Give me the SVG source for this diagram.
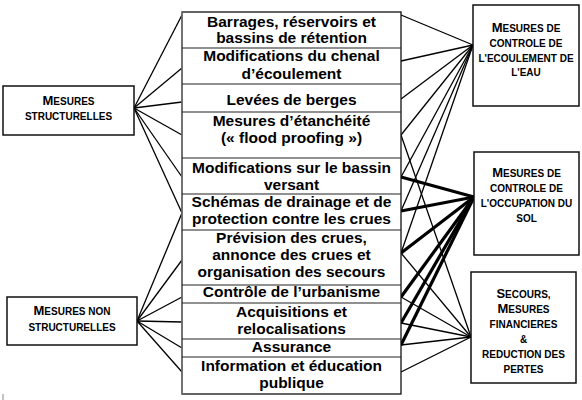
<svg xmlns="http://www.w3.org/2000/svg" width="582" height="400" viewBox="0 0 582 400">
<style>
.box{fill:#fff;stroke:#111;stroke-width:1.5}
.sep{stroke:#222;stroke-width:1.2}
.t{font-family:"Liberation Sans",Arial,sans-serif;font-weight:bold;font-size:15.5px;fill:#000;text-anchor:middle}
.sc{font-family:"Liberation Sans",Arial,sans-serif;font-weight:bold;font-size:10px;fill:#000;text-anchor:middle}
.big{font-size:13px}
.thin{stroke:#000;stroke-width:1.3;fill:none}
.thick{stroke:#000;stroke-width:3.2;fill:none}
</style>
<rect width="582" height="400" fill="#fff"/>
<g id="connectors">
<g class="thin">
<line x1="134" y1="108" x2="182" y2="15"/>
<line x1="134" y1="108" x2="182" y2="68"/>
<line x1="134" y1="108" x2="182" y2="102"/>
<line x1="134" y1="108" x2="182" y2="135"/>
<line x1="134" y1="108" x2="182" y2="177"/>
<line x1="134" y1="108" x2="182" y2="213"/>
<line x1="137" y1="321" x2="182" y2="213"/>
<line x1="137" y1="321" x2="182" y2="260"/>
<line x1="137" y1="321" x2="182" y2="297"/>
<line x1="137" y1="321" x2="182" y2="322"/>
<line x1="137" y1="321" x2="182" y2="348"/>
<line x1="137" y1="321" x2="182" y2="372"/>
<line x1="473" y1="45" x2="401" y2="15"/>
<line x1="473" y1="45" x2="401" y2="61"/>
<line x1="473" y1="45" x2="401" y2="99"/>
<line x1="473" y1="45" x2="401" y2="135"/>
<line x1="473" y1="45" x2="401" y2="177"/>
<line x1="473" y1="45" x2="401" y2="211"/>
<line x1="473" y1="45" x2="401" y2="253"/>
<line x1="471" y1="337" x2="401" y2="135"/>
<line x1="471" y1="337" x2="401" y2="253"/>
<line x1="471" y1="337" x2="401" y2="297"/>
<line x1="471" y1="337" x2="401" y2="323"/>
<line x1="471" y1="337" x2="401" y2="345"/>
<line x1="471" y1="337" x2="401" y2="372"/>
</g>
<g class="thick">
<line x1="474" y1="197" x2="401" y2="177"/>
<line x1="474" y1="197" x2="401" y2="211"/>
<line x1="474" y1="197" x2="401" y2="253"/>
<line x1="474" y1="197" x2="401" y2="297"/>
<line x1="474" y1="197" x2="401" y2="323"/>
<line x1="474" y1="197" x2="401" y2="345"/>
</g>
</g>
<g id="mesures-list">
<rect x="182" y="12" width="219" height="382" fill="#fff" stroke="#111" stroke-width="1.3"/>
<line x1="182" y1="12" x2="182" y2="394" stroke="#777" stroke-width="1.5"/>
<g class="sep">
<line x1="182" y1="48" x2="401" y2="48"/>
<line x1="182" y1="84" x2="401" y2="84"/>
<line x1="182" y1="112" x2="401" y2="112"/>
<line x1="182" y1="158" x2="401" y2="158"/>
<line x1="182" y1="194" x2="401" y2="194"/>
<line x1="182" y1="230" x2="401" y2="230"/>
<line x1="182" y1="285" x2="401" y2="285"/>
<line x1="182" y1="303" x2="401" y2="303"/>
<line x1="182" y1="339" x2="401" y2="339"/>
<line x1="182" y1="357" x2="401" y2="357"/>
</g>
</g>
<g id="n-barrages"><text class="t" x="291.5" y="27">Barrages, réservoirs et</text><text class="t" x="291.5" y="43">bassins de rétention</text></g>
<g id="n-chenal"><text class="t" x="291.5" y="61">Modifications du chenal</text><text class="t" x="291.5" y="79">d’écoulement</text></g>
<g id="n-levees"><text class="t" x="291.5" y="105">Levées de berges</text></g>
<g id="n-etancheite"><text class="t" x="291.5" y="126">Mesures d’étanchéité</text><text class="t" x="291.5" y="143">(« flood proofing »)</text></g>
<g id="n-bassin"><text class="t" x="291.5" y="173">Modifications sur le bassin</text><text class="t" x="291.5" y="190">versant</text></g>
<g id="n-drainage"><text class="t" x="291.5" y="207">Schémas de drainage et de</text><text class="t" x="291.5" y="224">protection contre les crues</text></g>
<g id="n-prevision"><text class="t" x="291.5" y="243">Prévision des crues,</text><text class="t" x="291.5" y="260">annonce des crues et</text><text class="t" x="291.5" y="277">organisation des secours</text></g>
<g id="n-urbanisme"><text class="t" x="291.5" y="297">Contrôle de l’urbanisme</text></g>
<g id="n-acquisitions"><text class="t" x="291.5" y="317">Acquisitions et</text><text class="t" x="291.5" y="334">relocalisations</text></g>
<g id="n-assurance"><text class="t" x="291.5" y="352">Assurance</text></g>
<g id="n-information"><text class="t" x="291.5" y="371">Information et éducation</text><text class="t" x="291.5" y="388">publique</text></g>
<g id="n-structurelles">
<rect class="box" x="3" y="86" width="131" height="49"/>
<text class="sc" x="68.5" y="105"><tspan class="big">M</tspan>ESURES</text>
<text class="sc" x="68.5" y="120">STRUCTURELLES</text>
</g>
<g id="n-non-structurelles">
<rect class="box" x="7" y="297" width="130" height="48"/>
<text class="sc" x="72" y="315"><tspan class="big">M</tspan>ESURES NON</text>
<text class="sc" x="72" y="331">STRUCTURELLES</text>
</g>
<g id="n-ecoulement">
<rect class="box" x="473" y="5" width="106" height="101"/>
<text class="sc" x="526" y="32"><tspan class="big">M</tspan>ESURES DE</text>
<text class="sc" x="526" y="47">CONTROLE DE</text>
<text class="sc" x="526" y="62">L'ECOULEMENT DE</text>
<text class="sc" x="526" y="76">L'EAU</text>
</g>
<g id="n-occupation">
<rect class="box" x="474" y="152" width="105" height="103"/>
<text class="sc" x="526.5" y="177"><tspan class="big">M</tspan>ESURES DE</text>
<text class="sc" x="526.5" y="192">CONTROLE DE</text>
<text class="sc" x="526.5" y="207">L'OCCUPATION DU</text>
<text class="sc" x="526.5" y="222">SOL</text>
</g>
<g id="n-secours">
<rect class="box" x="471" y="272" width="105" height="111"/>
<text class="sc" x="523.5" y="298"><tspan class="big">S</tspan>ECOURS,</text>
<text class="sc" x="523.5" y="313"><tspan class="big">M</tspan>ESURES</text>
<text class="sc" x="523.5" y="328">FINANCIERES</text>
<text class="sc" x="523.5" y="343" font-size="11">&amp;</text>
<text class="sc" x="523.5" y="358">REDUCTION DES</text>
<text class="sc" x="523.5" y="373">PERTES</text>
</g>
<line x1="3" y1="394" x2="3" y2="400" stroke="#888" stroke-width="1"/>
</svg>
